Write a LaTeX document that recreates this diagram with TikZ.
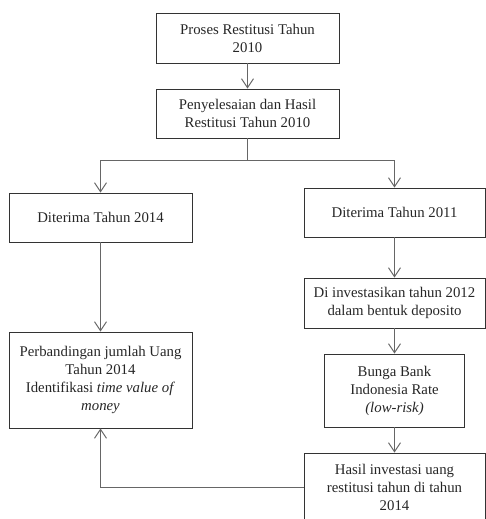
\documentclass[tikz,border=0pt]{standalone}
\usepackage{fontspec}
\setmainfont{Liberation Serif}
\usetikzlibrary{arrows.meta}

\begin{document}
\begin{tikzpicture}[x=1pt,y=-1pt,line width=1pt,
  kotak/.style={draw=black!80,line width=0.8pt,align=center,inner sep=0pt,
    minimum width=183pt,font=\fontsize{14.8}{18}\selectfont,text=black!85},
  garis/.style={draw=black!60},
  panah/.style={draw=black!60,-{Straight Barb[length=9pt,width=12pt]}}]
\useasboundingbox (0,0) rectangle (486,519);

\node[kotak,minimum height=50pt] (proses) at (247.5,38) {Proses Restitusi Tahun\\2010};
\node[kotak,minimum height=49pt] (selesai) at (247.5,113.5) {Penyelesaian dan Hasil\\Restitusi Tahun 2010};

\node[kotak,minimum height=49pt] (terima14) at (100.5,217.5) {Diterima Tahun 2014};
\node[kotak,minimum width=181pt,minimum height=49pt] (terima11) at (394.5,212.5) {Diterima Tahun 2011};

\node[kotak,minimum width=181pt,minimum height=50pt] (investasi) at (394.5,303) {Di investasikan tahun 2012\\dalam bentuk deposito};
\node[kotak,minimum width=140pt,minimum height=73pt] (bunga) at (394.5,390.5) {Bunga Bank\\Indonesia Rate\\\textit{(low-risk)}};
\node[kotak,minimum width=181pt,minimum height=68pt] (hasil) at (394.5,487) {Hasil investasi uang\\restitusi tahun di tahun\\2014};

\node[kotak,minimum height=96pt] (banding) at (100.5,380) {Perbandingan jumlah Uang\\Tahun 2014\\Identifikasi \textit{time value of}\\\textit{money}};

\coordinate (cabang) at (247.5,160);

\draw[panah] (proses) -- (selesai);
\draw[garis] (selesai) -- (cabang);
\draw[panah] (cabang) -| (terima14.north);
\draw[panah] (cabang) -| (terima11.north);

\draw[panah] (terima14) -- (banding);
\draw[panah] (terima11) -- (investasi);
\draw[panah] (investasi) -- (bunga);
\draw[panah] (bunga) -- (hasil);

\draw[panah] (hasil.west) -| (banding.south);

\end{tikzpicture}
\end{document}
